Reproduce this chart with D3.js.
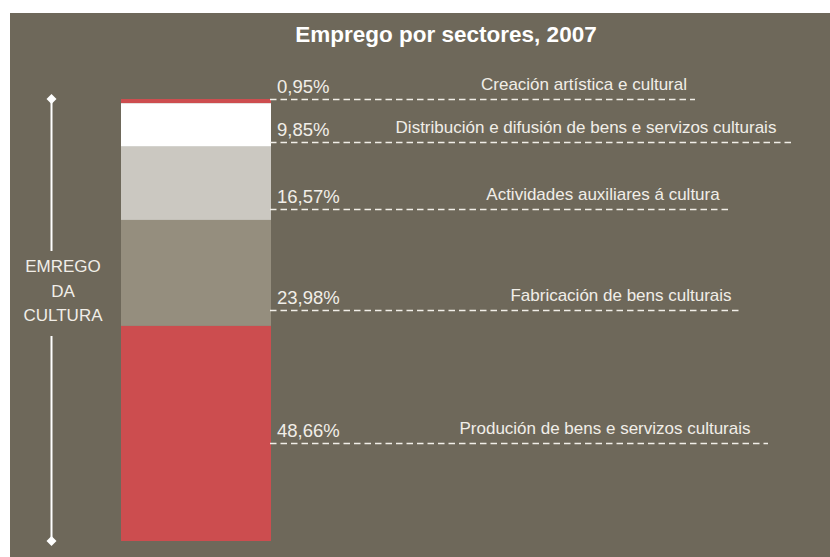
<!DOCTYPE html>
<html>
<head>
<meta charset="utf-8">
<script src="https://cdn.jsdelivr.net/npm/d3@7"></script>
<style>
    body { margin: 0; background: #ffffff; }
    svg text { font-family: "Liberation Sans", Arial, sans-serif; }
</style>
</head>
<body>
<svg id="chart" width="830" height="557"></svg>
<script>
// data
var categories = [
    'Creación artística e cultural',
    'Distribución e difusión de bens e servizos culturais',
    'Actividades auxiliares á cultura',
    'Fabricación de bens culturais',
    'Produción de bens e servizos culturais'
];
var shares      = [0.95, 9.85, 16.57, 23.98, 48.66];
var shareLabels = ['0,95%', '9,85%', '16,57%', '23,98%', '48,66%'];
var colors      = ['#cd4d4f', '#ffffff', '#cbc8c1', '#958e7e', '#cc4d4f'];

// layout of the leaders (position along the column, in % from top, and right end)
var leaderAt    = [0.1, 9.7, 24.9, 47.7, 77.8];
var leaderEnd   = [695, 793, 732, 740, 768];
var labelCenter = [584, 586, 603, 621, 605];

// setup
var svg = d3.select('#chart');
var textColor = '#f1eee8';

// panel
svg.append('rect')
    .attr('x', 10).attr('y', 13)
    .attr('width', 820).attr('height', 544)
    .attr('fill', '#6e685a');

// title
svg.append('text')
    .attr('x', 446).attr('y', 42)
    .attr('text-anchor', 'middle')
    .attr('font-size', 22.5)
    .attr('font-weight', 'bold')
    .attr('fill', '#ffffff')
    .text('Emprego por sectores, 2007');

// stack the shares from the top
var total = d3.sum(shares);
var stacked = [];
var acc = 0;
shares.forEach(function(v, i) {
    stacked.push({ start: acc, end: acc + v, index: i });
    acc += v;
});

// scales
var y = d3.scaleLinear().domain([0, total]).range([99, 541]);
var x = d3.scaleBand().domain(['cultura']).range([121, 271]).padding(0);

// bars
svg.selectAll('rect.segment')
    .data(stacked)
    .enter().append('rect')
    .attr('class', 'segment')
    .attr('x', x('cultura'))
    .attr('width', x.bandwidth())
    .attr('y', function(d) { return y(d.start); })
    .attr('height', function(d) { return y(d.end) - y(d.start); })
    .attr('fill', function(d) { return colors[d.index]; });

// leaders
var x1 = x('cultura') + x.bandwidth() - 1;
var leaders = svg.selectAll('g.leader')
    .data(stacked)
    .enter().append('g')
    .attr('class', 'leader');

leaders.append('line')
    .attr('x1', x1)
    .attr('x2', function(d) { return leaderEnd[d.index]; })
    .attr('y1', function(d) { return Math.round(y(leaderAt[d.index])) + 0.5; })
    .attr('y2', function(d) { return Math.round(y(leaderAt[d.index])) + 0.5; })
    .attr('stroke', textColor)
    .attr('stroke-width', 1.3)
    .attr('stroke-dasharray', '6.5,4');

// percent labels
leaders.append('text')
    .attr('x', 277)
    .attr('y', function(d) { return y(leaderAt[d.index]) - 6; })
    .attr('font-size', 18.5)
    .attr('fill', textColor)
    .text(function(d) { return shareLabels[d.index]; });

// category labels
leaders.append('text')
    .attr('x', function(d) { return labelCenter[d.index]; })
    .attr('y', function(d) { return y(leaderAt[d.index]) - 9; })
    .attr('text-anchor', 'middle')
    .attr('font-size', 17)
    .attr('fill', textColor)
    .text(function(d) { return categories[d.index]; });

// left axis
var axisX = 51.5;
svg.append('line')
    .attr('x1', axisX).attr('x2', axisX)
    .attr('y1', y(0)).attr('y2', 251)
    .attr('stroke', '#ffffff').attr('stroke-width', 2);
svg.append('line')
    .attr('x1', axisX).attr('x2', axisX)
    .attr('y1', 336).attr('y2', y(total))
    .attr('stroke', '#ffffff').attr('stroke-width', 2);

// diamonds
[y(0), y(total)].forEach(function(cy) {
    svg.append('path')
        .attr('d', 'M' + axisX + ',' + (cy - 5) + 'L' + (axisX + 5) + ',' + cy +
                   'L' + axisX + ',' + (cy + 5) + 'L' + (axisX - 5) + ',' + cy + 'Z')
        .attr('fill', '#ffffff');
});

// axis title
var axisTitle = ['EMREGO', 'DA', 'CULTURA'];
svg.selectAll('text.axis-title')
    .data(axisTitle)
    .enter().append('text')
    .attr('class', 'axis-title')
    .attr('x', 63)
    .attr('y', function(d, i) { return 272 + i * 24.5; })
    .attr('text-anchor', 'middle')
    .attr('font-size', 17)
    .attr('fill', textColor)
    .text(function(d) { return d; });
</script>
</body>
</html>
